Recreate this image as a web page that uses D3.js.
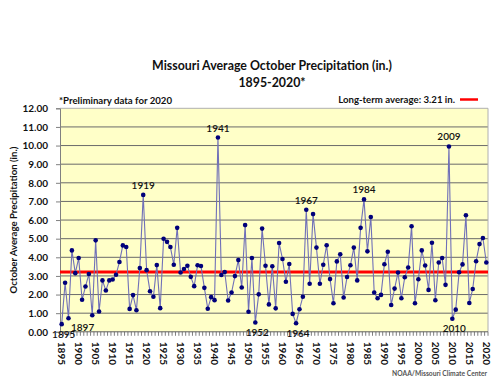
<!DOCTYPE html>
<html><head><meta charset="utf-8">
<script src="https://cdn.jsdelivr.net/npm/d3@7"></script>
<style>
html,body{margin:0;padding:0;background:#fff;}
svg{display:block;font-family:Lato,"Open Sans",sans-serif;}
</style></head>
<body><svg id="c" width="500" height="380"></svg>
<script>
const years = d3.range(1895, 2021);
const precip = [
0.41,2.63,0.73,4.37,3.15,3.96,1.72,2.43,3.10,0.89,
4.91,1.09,2.76,2.22,2.76,2.81,3.06,3.75,4.64,4.55,
1.23,1.97,1.16,3.42,7.35,3.31,2.18,1.88,3.58,1.27,
5.00,4.83,4.55,3.60,5.58,3.18,3.37,3.55,2.95,2.45,
3.57,3.53,2.36,1.24,1.86,1.70,10.43,3.05,3.21,1.68,
2.11,2.99,3.85,2.38,5.73,1.08,3.96,0.50,2.01,5.54,
3.55,1.47,3.52,1.26,4.77,3.91,2.69,3.64,0.96,0.46,
1.21,1.88,6.55,2.58,6.32,4.52,2.58,3.60,4.65,2.83,
1.53,3.78,4.16,1.84,2.94,3.57,4.52,2.76,5.58,7.11,
4.32,6.16,2.11,1.80,1.98,3.63,4.30,1.44,2.32,3.18,
1.80,2.93,3.45,5.67,1.53,2.82,4.37,3.56,2.25,4.78,
1.69,3.72,3.96,2.52,9.95,0.70,1.19,3.20,3.62,6.26,
1.55,2.30,3.79,4.71,5.04,3.72];
const average = 3.21;
const yTicks = [0,1,2,3,4,5,6,7,8,9,10,11,12];
const xTickYears = d3.range(1895, 2021, 5);
const annotated = [1895,1897,1919,1941,1952,1964,1967,1984,2009,2010];
const annotBelow = [1895,1897,1952,1964,2010];
const titleLines = ["Missouri Average October Precipitation (in.)", "1895-2020*"];
const noteText = "*Preliminary data for 2020";
const legendText = "Long-term average: 3.21 in.";
const yLabel = "October Average Precipitation (in.)";
const sourceText = "NOAA/Missouri Climate Center";

const data = years.map((y,i)=>({year:y, v:precip[i]}));
const svg = d3.select("#c");
const L=60, R=488, T=108.3, B=331.8;

const x = d3.scalePoint().domain(years).range([L,R]).padding(0.5);
const y = d3.scaleLinear().domain([0,12]).range([B,T]);
const step = x.step();

function fit(sel, w){
  const n = sel.node(); const fs = parseFloat(sel.style("font-size"));
  const cur = n.getComputedTextLength();
  sel.style("font-size", (fs*w/cur).toFixed(2)+"px");
}

// plot background
svg.append("rect").attr("x",L).attr("y",T).attr("width",R-L).attr("height",B-T)
  .attr("fill","#FFFFC8");

// gridlines
svg.append("g").selectAll("line").data(yTicks.filter(d=>d>0&&d<12)).join("line")
  .attr("x1",L).attr("x2",R).attr("y1",d=>y(d)).attr("y2",d=>y(d))
  .attr("stroke","#6a6a6a").attr("stroke-width",1);
// border top/right
svg.append("path").attr("d",`M${L},${T}H${R}V${B}`).attr("fill","none")
  .attr("stroke","#b0b0b0").attr("stroke-width",1);

// y axis
const yAxis = svg.append("g").attr("transform",`translate(${L},0)`)
  .call(d3.axisLeft(y).tickValues(yTicks).tickFormat(d3.format(".2f")).tickSize(4).tickPadding(8));
yAxis.select(".domain").attr("stroke","#808080");
yAxis.selectAll(".tick line").attr("stroke","#808080");
yAxis.selectAll("text").attr("font-family","Lato").attr("font-weight","bold")
  .attr("font-size","10px").attr("fill","#111");

// x axis: year ticks at category boundaries
const xg = svg.append("g");
xg.append("line").attr("x1",L).attr("x2",R).attr("y1",B).attr("y2",B).attr("stroke","#606060");
xg.selectAll("line.t").data(d3.range(0,years.length+1)).join("line").attr("class","t")
  .attr("x1",d=>L+d*step).attr("x2",d=>L+d*step).attr("y1",B).attr("y2",B+4)
  .attr("stroke","#606060").attr("stroke-width",0.8);
xg.selectAll("text").data(xTickYears).join("text")
  .attr("transform",d=>`translate(${x(d)},${B+10}) rotate(90)`)
  .attr("dy","0.35em").attr("text-anchor","start")
  .attr("font-weight","bold").attr("font-size","10px").attr("fill","#111")
  .text(d=>d);

// average line
svg.append("line").attr("x1",L).attr("x2",R).attr("y1",y(average)).attr("y2",y(average))
  .attr("stroke","#FF0000").attr("stroke-width",3);

// series
svg.append("path").datum(data)
  .attr("d",d3.line().x(d=>x(d.year)).y(d=>y(d.v)))
  .attr("fill","none").attr("stroke","#7070B8").attr("stroke-width",1.1);
svg.append("g").selectAll("circle").data(data).join("circle")
  .attr("cx",d=>x(d.year)).attr("cy",d=>y(d.v)).attr("r",2.3).attr("fill","#00007A");

// annotations
svg.append("g").selectAll("text").data(data.filter(d=>annotated.includes(d.year))).join("text")
  .attr("x",d=> d.year===1897 ? x(d.year)+2.5 : x(d.year)+ (annotBelow.includes(d.year)?2:0))
  .attr("y",d=> annotBelow.includes(d.year) ? y(d.v)+ (d.year===1897?9:10) : y(d.v)-6)
  .attr("dy",d=> annotBelow.includes(d.year)?"0.35em":"0")
  .attr("text-anchor",d=> d.year===1897?"start":"middle")
  .attr("font-size","10px").attr("font-weight","600").attr("fill","#111")
  .text(d=>d.year);

// titles
const t1 = svg.append("text").attr("x",272).attr("y",70).attr("text-anchor","middle")
  .attr("font-weight","bold").style("font-size","12px").attr("fill","#111").text(titleLines[0]);
fit(t1,240);
const t2 = svg.append("text").attr("x",272).attr("y",87).attr("text-anchor","middle")
  .attr("font-weight","bold").style("font-size","12px").attr("fill","#111").text(titleLines[1]);
t2.style("font-size", t1.style("font-size"));

const note = svg.append("text").attr("x",59).attr("y",104).attr("font-weight","bold")
  .style("font-size","10px").attr("fill","#111").text(noteText);
fit(note,113);
const leg = svg.append("text").attr("x",455).attr("y",103).attr("text-anchor","end").attr("font-weight","bold")
  .style("font-size","10px").attr("fill","#111").text(legendText);
fit(leg,117);
svg.append("line").attr("x1",460).attr("x2",478).attr("y1",99.5).attr("y2",99.5)
  .attr("stroke","#FF0000").attr("stroke-width",2.5);

const yl = svg.append("text").attr("transform",`translate(17,${(T+B)/2}) rotate(-90)`)
  .attr("text-anchor","middle").attr("font-weight","bold").style("font-size","11px")
  .attr("fill","#111").text(yLabel);
fit(yl,147);

const src = svg.append("text").attr("x",487).attr("y",376).attr("text-anchor","end")
  .attr("font-weight","bold").style("font-size","8px").attr("fill","#555").text(sourceText);
fit(src,95);
</script></body></html>
